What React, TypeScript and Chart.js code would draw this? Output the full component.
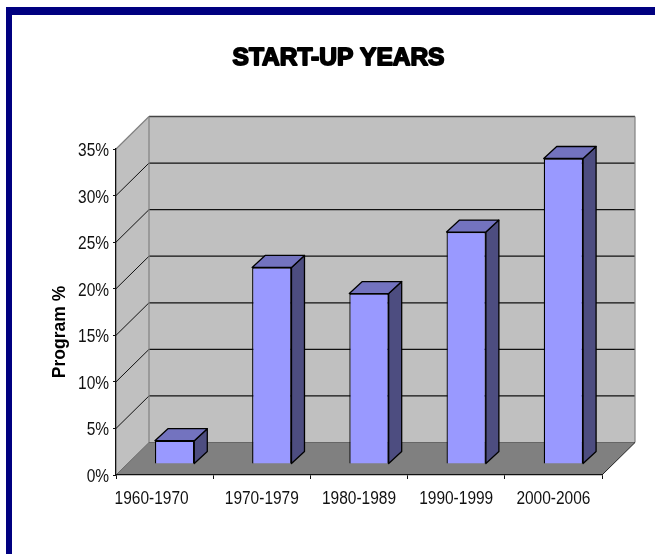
import { useEffect, useRef } from "react";
import { Chart, registerables } from "chart.js";

Chart.register(...registerables);

const periods = ["1960-1970", "1970-1979", "1980-1989", "1990-1999", "2000-2006"];
const programShare = [2.5, 21.1, 18.3, 24.9, 32.8];
const percentTicks = [0, 5, 10, 15, 20, 25, 30, 35];

const WALL_DEPTH_X = 33;
const WALL_DEPTH_Y = 32.5;
const BAR_INSET_X = 10;
const BAR_INSET_Y = 11;
const BAR_DEPTH_X = 13;
const BAR_DEPTH_Y = 12;
const LABEL_CONDENSE = 0.86;
const TITLE_CENTER = 338.5;

function polygon(ctx: CanvasRenderingContext2D, pts: number[][], fill?: string, stroke?: string, lw = 1) {
  ctx.beginPath();
  pts.forEach(([x, y], i) => (i ? ctx.lineTo(x, y) : ctx.moveTo(x, y)));
  ctx.closePath();
  if (fill) {
    ctx.fillStyle = fill;
    ctx.fill();
  }
  if (stroke) {
    ctx.strokeStyle = stroke;
    ctx.lineWidth = lw;
    ctx.stroke();
  }
}

function segment(ctx: CanvasRenderingContext2D, x1: number, y1: number, x2: number, y2: number, color: string, lw: number) {
  ctx.beginPath();
  ctx.moveTo(x1, y1);
  ctx.lineTo(x2, y2);
  ctx.strokeStyle = color;
  ctx.lineWidth = lw;
  ctx.stroke();
}

// Draws a scale's tick labels horizontally condensed, keeping each anchor in place.
function condenseLabels(chart: any, scale: any, nudgeX: (i: number) => number, nudgeY: number) {
  scale.getLabelItems().forEach((item: any, i: number) => {
    const t = item.options.translation;
    t[0] = (t[0] + nudgeX(i)) / LABEL_CONDENSE;
    t[1] += nudgeY;
  });
  scale._computeLabelArea = () => undefined;
  const drawLabels = scale.drawLabels.bind(scale);
  scale.drawLabels = (area: any) => {
    chart.ctx.save();
    chart.ctx.scale(LABEL_CONDENSE, 1);
    drawLabels(area);
    chart.ctx.restore();
  };
}

// The axis title rests below the middle of the value axis.
function shiftAxisTitle(chart: any, scale: any, dx: number, dy: number) {
  const drawTitle = scale.drawTitle.bind(scale);
  scale.drawTitle = () => {
    chart.ctx.save();
    chart.ctx.translate(dx, dy);
    drawTitle();
    chart.ctx.restore();
  };
}

// Back wall, side wall, floor and their gridlines, all derived from the value scale.
const roomPlugin = {
  id: "room",
  beforeDraw(chart: any) {
    const { ctx, chartArea: a, scales } = chart;
    const dx = WALL_DEPTH_X;
    const dy = WALL_DEPTH_Y;
    const y = scales.y;
    ctx.save();
    polygon(ctx, [[a.left + dx, a.top - dy], [a.right + dx, a.top - dy], [a.right + dx, a.bottom - dy], [a.left + dx, a.bottom - dy]], "#c0c0c0");
    polygon(ctx, [[a.left, a.top], [a.left + dx, a.top - dy], [a.left + dx, a.bottom - dy], [a.left, a.bottom]], "#c0c0c0");
    polygon(ctx, [[a.left, a.bottom], [a.left + dx, a.bottom - dy], [a.right + dx, a.bottom - dy], [a.right, a.bottom]], "#808080");
    percentTicks.forEach((t) => {
      const py = y.getPixelForValue(t);
      if (t > 0 && t < 35) {
        segment(ctx, a.left, py, a.left + dx, py - dy, "#111", 1);
        segment(ctx, a.left + dx, py - dy, a.right + dx, py - dy, "#111", 1.3);
      }
    });
    segment(ctx, a.left + dx, a.top - dy, a.right + dx, a.top - dy, "#444", 1.5);
    segment(ctx, a.left, a.top, a.left + dx, a.top - dy, "#808080", 1.2);
    segment(ctx, a.left + dx, a.top - dy, a.left + dx, a.bottom - dy, "#808080", 1.2);
    segment(ctx, a.right + dx, a.top - dy, a.right + dx, a.bottom - dy, "#808080", 1.2);
    segment(ctx, a.left, a.bottom, a.left + dx, a.bottom - dy, "#666", 1);
    segment(ctx, a.left + dx, a.bottom - dy, a.right + dx, a.bottom - dy, "#666", 1);
    segment(ctx, a.right, a.bottom, a.right + dx, a.bottom - dy, "#222", 1);
    ctx.restore();
  },
  afterUpdate(chart: any) {
    // The heading is centred over the whole room; the first category label sits left of its slot.
    chart.titleBlock.right = chart.titleBlock.left + 2 * TITLE_CENTER;
    condenseLabels(chart, chart.scales.x, (i) => (i === 0 ? -13 : 0), -1);
    condenseLabels(chart, chart.scales.y, () => 0, 2);
    shiftAxisTitle(chart, chart.scales.y, 2, 20);
  },
};

// Bars stand partway into the room; side and top faces extend from each bar's own rectangle.
const depthPlugin = {
  id: "barDepth",
  beforeDatasetDraw(chart: any) {
    chart.ctx.save();
    chart.ctx.translate(BAR_INSET_X, -BAR_INSET_Y);
  },
  afterDatasetDraw(chart: any, args: any) {
    const { ctx } = chart;
    const dx = BAR_DEPTH_X;
    const dy = BAR_DEPTH_Y;
    args.meta.data.forEach((bar: any) => {
      const { x, y, base, width } = bar.getProps(["x", "y", "base", "width"], true);
      const l = x - width / 2;
      const r = x + width / 2;
      ctx.lineJoin = "round";
      polygon(ctx, [[r, y], [r + dx, y - dy], [r + dx, base - dy], [r, base]], "#4d4d80", "#000", 1.3);
      polygon(ctx, [[l, y], [l + dx, y - dy], [r + dx, y - dy], [r, y]], "#7373bf", "#000", 1.3);
    });
    ctx.restore();
  },
};

// The heavy display weight of the heading comes from an outline over the fill.
const headingPlugin = {
  id: "heading",
  afterDraw(chart: any) {
    const { ctx } = chart;
    const t = chart.titleBlock;
    ctx.save();
    ctx.font = "bold 24.5px 'Liberation Sans'";
    ctx.textAlign = "center";
    ctx.textBaseline = "middle";
    ctx.strokeStyle = "#000";
    ctx.lineWidth = 1.8;
    ctx.lineJoin = "round";
    ctx.strokeText(chart.options.plugins.title.text, (t.left + t.right) / 2, t.top + 44 + 14.7);
    ctx.restore();
  },
};

export default function App() {
  const ref = useRef<HTMLCanvasElement>(null);

  useEffect(() => {
    const chart = new Chart(ref.current!, {
      type: "bar",
      data: {
        labels: periods,
        datasets: [
          {
            data: programShare,
            backgroundColor: "#9999ff",
            borderColor: "#000",
            borderWidth: 1.3,
            categoryPercentage: 1,
            barPercentage: 0.405,
          },
        ],
      },
      plugins: [roomPlugin, depthPlugin, headingPlugin],
      options: {
        responsive: false,
        animation: false,
        events: [],
        layout: { padding: { left: 0, top: 0, right: 53, bottom: 0 } },
        plugins: {
          legend: { display: false },
          tooltip: { enabled: false },
          title: {
            display: true,
            text: "START-UP YEARS",
            color: "#000",
            font: { family: "'Liberation Sans'", size: 24.5, weight: "bold" },
            padding: { top: 44, bottom: 75.6 },
          },
        },
        scales: {
          x: {
            afterFit(s: any) {
              s.height = 79;
            },
            border: { display: true, color: "#111", width: 1.3 },
            grid: { drawOnChartArea: false, drawTicks: true, tickLength: 4, color: "#111" },
            ticks: {
              color: "#111",
              padding: 10,
              maxRotation: 0,
              autoSkip: false,
              font: { family: "'Liberation Sans'", size: 18 },
            },
          },
          y: {
            min: 0,
            max: 35,
            afterFit(s: any) {
              s.width = 116;
            },
            afterBuildTicks(s: any) {
              s.ticks = percentTicks.map((value) => ({ value }));
            },
            border: { display: true, color: "#111", width: 1.3 },
            grid: { drawOnChartArea: false, drawTicks: true, tickLength: 3, color: "#111" },
            ticks: {
              color: "#111",
              padding: 4,
              font: { family: "'Liberation Sans'", size: 18 },
              callback: (v: any) => `${v}%`,
            },
            title: {
              display: true,
              text: "Program %",
              color: "#000",
              font: { family: "'Liberation Sans'", size: 17.5, weight: "bold" },
              padding: { top: 48, bottom: 0 },
            },
          },
        },
      },
    });
    return () => chart.destroy();
  }, []);

  return (
    <>
      <div
        style={{
          position: "absolute",
          left: 6,
          top: 7,
          width: 649,
          height: 547,
          boxSizing: "border-box",
          background: "#fff",
          borderTop: "8px solid #000080",
          borderLeft: "6px solid #000080",
        }}
      />
      <canvas ref={ref} width={655} height={554} style={{ position: "absolute", left: 0, top: 0 }} />
    </>
  );
}
